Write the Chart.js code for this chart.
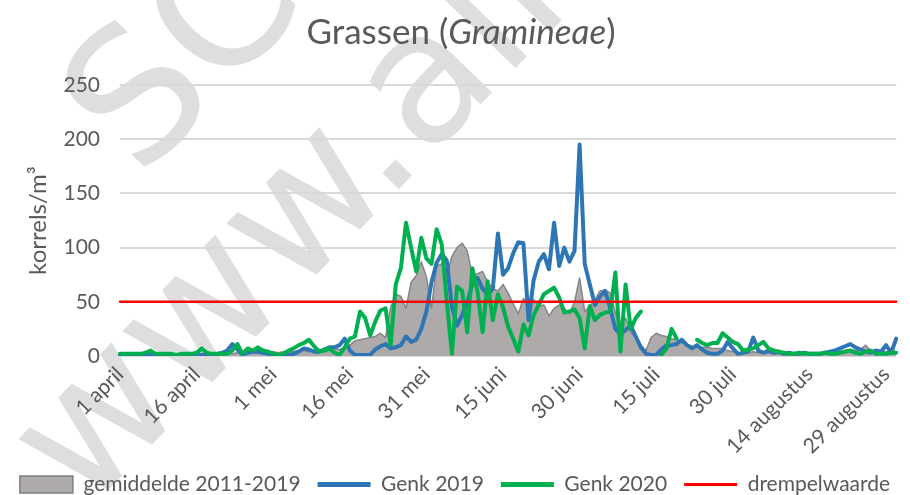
<!DOCTYPE html>
<html lang="nl">
<head>
<meta charset="UTF-8" />
<title>Grassen (Gramineae)</title>
<script src="https://cdn.jsdelivr.net/npm/chart.js"></script>
<style>
  html, body { margin: 0; padding: 0; background: #ffffff; }
  #grafiek { display: block; }
</style>
</head>
<body>
<canvas id="grafiek" width="910" height="495"></canvas>
<script>
// categorieen: elke dag van 1 april t/m 31 augustus
const maanden = ["april", "mei", "juni", "juli", "augustus"];
const dagenPerMaand = [30, 31, 30, 31, 31];
const labelStap = 15; // om de 15 dagen een label
const yTicks = [0, 50, 100, 150, 200, 250];
const drempelwaarde = 50;

const dagen = [];
maanden.forEach(function (m, k) {
  for (let d = 1; d <= dagenPerMaand[k]; d++) dagen.push(d + " " + m);
});

// gemiddelde 2011-2019 (korrels/m³)
const gemiddelde = [
  1,1,1,1,2,1,1,2,2,1,2,2,2,1,2,
  2,2,3,2,2,3,3,2,3,3,4,3,3,4,4,
  4,3,4,5,4,5,5,4,5,6,5,6,7,6,8,
  10,14,15,16,17,18,21,17,45,57,55,44,68,74,87,
  73,44,83,85,74,92,100,104,97,74,76,78,68,62,60,
  66,58,48,39,53,47,52,46,47,37,44,47,44,39,50,
  72,41,46,52,60,61,58,40,28,35,22,17,10,5,17,
  21,19,18,16,15,12,11,9,8,8,8,7,7,7,5,
  4,3,2,3,4,3,3,3,2,2,3,3,2,2,3,
  3,2,3,3,3,4,4,5,6,5,6,10,5,4,5,
  4,5,4
];

const genk2019 = [
  1,1,2,1,1,2,1,1,1,2,1,1,1,2,1,
  2,1,2,1,2,3,5,11,6,1,3,4,4,3,2,
  1,0,1,1,2,4,7,6,4,4,6,8,8,10,16,
  5,1,1,1,1,6,9,11,7,8,10,18,13,15,25,
  41,68,86,94,88,45,28,38,50,66,72,62,57,62,113,
  75,81,95,105,104,33,70,87,94,80,123,83,100,87,97,
  195,85,66,47,55,60,44,25,20,24,28,18,8,2,1,
  1,6,10,10,11,15,10,7,10,6,3,2,2,5,13,
  7,2,3,4,17,5,3,5,3,4,2,3,2,2,3,
  2,2,2,3,4,5,7,9,11,8,6,4,3,5,4,
  10,3,16
];

const genk2020 = [
  2,2,2,2,2,3,5,2,2,2,2,1,2,2,2,
  3,7,3,2,2,2,2,5,11,2,7,5,8,5,4,
  2,1,2,5,7,10,12,15,9,4,5,7,3,1,8,
  16,18,41,35,19,32,42,44,10,66,81,123,100,78,109,
  90,85,117,103,50,2,64,60,22,81,60,22,69,33,57,
  45,27,16,4,29,19,38,47,57,60,63,54,40,41,43,
  35,7,46,33,38,40,41,77,4,66,25,35,41,null,null,
  null,1,7,25,16,null,null,null,15,12,10,12,12,21,17,
  13,11,5,6,7,10,13,7,5,4,3,2,2,3,2,
  2,2,2,3,2,2,3,4,5,3,2,4,5,2,2,
  2,3,3
];

const tekstKleur = "#595959";
Chart.defaults.font.family = "Lato, 'Noto Sans', sans-serif";
Chart.defaults.color = tekstKleur;

// watermerk op de achtergrond
const watermerk = {
  id: "watermerk",
  beforeDraw(chart) {
    const ctx = chart.ctx;
    const hoek = -46 * Math.PI / 180;
    ctx.save();
    ctx.fillStyle = "#dedede";
    ctx.font = "183px 'DejaVu Sans'";
    ctx.textBaseline = "alphabetic";
    ctx.save();
    ctx.translate(85, 514);
    ctx.rotate(hoek);
    ctx.fillText("www.airallergy.be", 0, 0);
    ctx.restore();
    ctx.save();
    ctx.translate(140, 180);
    ctx.rotate(hoek);
    ctx.fillText("SCIENSANO", 0, 0);
    ctx.restore();
    ctx.restore();
  }
};

// titel met cursief deel
const titel = {
  id: "titel",
  afterDraw(chart) {
    const ctx = chart.ctx;
    const delen = [
      { t: "Grassen (", f: "35px Lato" },
      { t: "Gramineae", f: "italic 35px Lato" },
      { t: ")", f: "35px Lato" }
    ];
    let breedte = 0;
    delen.forEach(function (d) { ctx.font = d.f; breedte += ctx.measureText(d.t).width; });
    let x = 461 - breedte / 2;
    ctx.save();
    ctx.fillStyle = tekstKleur;
    ctx.textBaseline = "alphabetic";
    delen.forEach(function (d) {
      ctx.font = d.f;
      ctx.fillText(d.t, x, 44);
      x += ctx.measureText(d.t).width;
    });
    ctx.restore();
  }
};

new Chart(document.getElementById("grafiek"), {
  type: "line",
  data: {
    labels: dagen,
    datasets: [
      {
        label: "gemiddelde 2011-2019",
        data: gemiddelde,
        borderColor: "#858585",
        borderWidth: 1.5,
        backgroundColor: "#AEAAAA",
        fill: "origin",
        order: 3
      },
      {
        label: "Genk 2019",
        data: genk2019,
        borderColor: "#2E75B6",
        backgroundColor: "#2E75B6",
        borderWidth: 4,
        fill: false,
        order: 2
      },
      {
        label: "Genk 2020",
        data: genk2020,
        borderColor: "#00B050",
        backgroundColor: "#00B050",
        borderWidth: 4,
        fill: false,
        spanGaps: false,
        order: 1
      },
      {
        label: "drempelwaarde",
        data: dagen.map(function () { return drempelwaarde; }),
        borderColor: "#FF0000",
        backgroundColor: "#FF0000",
        borderWidth: 2.5,
        fill: false,
        order: 0
      }
    ]
  },
  options: {
    responsive: false,
    animation: false,
    layout: { padding: { top: 85, right: 0, left: 0, bottom: -10 } },
    elements: {
      point: { radius: 0, hoverRadius: 0 },
      line: { tension: 0, borderJoinStyle: "round", borderCapStyle: "round" }
    },
    plugins: {
      title: { display: false },
      tooltip: { enabled: false },
      legend: {
        position: "bottom",
        labels: {
          usePointStyle: true,
          pointStyleWidth: 53,
          boxHeight: 17,
          padding: 17,
          font: { size: 21 },
          color: tekstKleur,
          generateLabels(chart) {
            return chart.data.datasets.map(function (ds, i) {
              const vlak = i === 0;
              return {
                text: ds.label,
                datasetIndex: i,
                fillStyle: vlak ? "#AEAAAA" : ds.borderColor,
                strokeStyle: vlak ? "#7F7F7F" : ds.borderColor,
                lineWidth: vlak ? 1.5 : (i === 3 ? 3 : 5),
                pointStyle: vlak ? "rect" : "line",
                fontColor: tekstKleur,
                hidden: false
              };
            });
          }
        }
      }
    },
    scales: {
      x: {
        grid: { display: false, drawTicks: false },
        border: { display: false },
        ticks: {
          autoSkip: false,
          minRotation: 45,
          maxRotation: 45,
          padding: 6,
          font: { size: 21 },
          color: tekstKleur,
          callback: function (value, index) {
            return index % labelStap === 0 ? this.getLabelForValue(value) : null;
          }
        },
        afterFit: function (scale) { scale.height = 101; }
      },
      y: {
        min: 0,
        max: 250,
        afterBuildTicks: function (scale) {
          scale.ticks = yTicks.map(function (v) { return { value: v }; });
        },
        grid: { color: "#D9D9D9", lineWidth: 2, drawTicks: false },
        border: { display: false },
        ticks: { padding: 20, font: { size: 21 }, color: tekstKleur },
        title: {
          display: true,
          text: "korrels/m³",
          font: { size: 24 },
          color: tekstKleur,
          padding: { top: 24, bottom: 0 }
        },
        afterFit: function (scale) { scale.width = 120; }
      },
      // lege rand rechts van het plotvlak
      rand: {
        position: "right",
        min: 0,
        max: 250,
        grid: { display: false, drawTicks: false },
        border: { display: false },
        ticks: { display: false },
        afterFit: function (scale) { scale.width = 12; }
      }
    }
  },
  plugins: [watermerk, titel]
});
</script>
</body>
</html>
